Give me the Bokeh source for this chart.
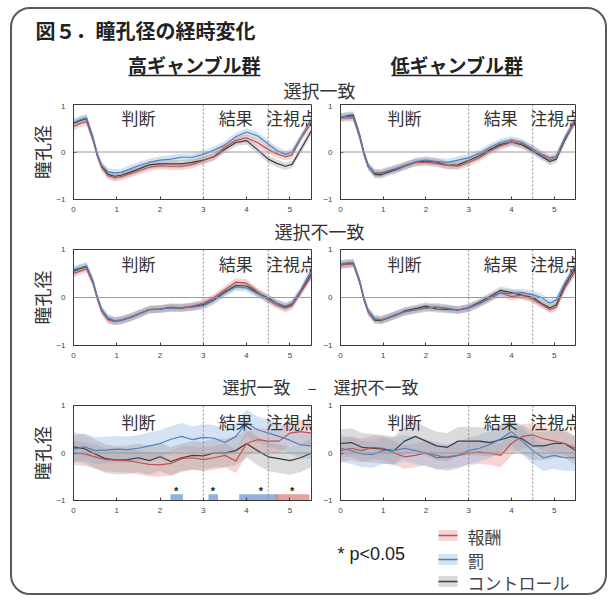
from bokeh.plotting import figure
from bokeh.layouts import column, row
from bokeh.models import Range1d, Span, Label, FixedTicker, InlineStyleSheet
from bokeh.embed import file_html
from bokeh.resources import INLINE
from bokeh.core.properties import value

JP = "Noto Sans CJK JP"
LATIN = "Liberation Sans"

# ---------------------------------------------------------------- data
# time (s) for the condition averages
time_avg = [0, 0.15, 0.3, 0.45, 0.55, 0.65, 0.8, 0.95, 1.1, 1.3, 1.5, 1.75, 2.0,
            2.25, 2.5, 2.75, 3.0, 3.25, 3.5, 3.75, 4.0, 4.25, 4.5, 4.7, 4.9,
            5.05, 5.25, 5.5]
# time (s) for the difference waves
time_diff = [0, 0.25, 0.5, 0.75, 1.0, 1.25, 1.5, 1.75, 2.0, 2.25, 2.5, 2.75,
             3.0, 3.25, 3.5, 3.75, 4.0, 4.25, 4.5, 4.75, 5.0, 5.25, 5.5]

# high-gambling group, choice congruent
hi_match_reward = [0.53, 0.60, 0.64, 0.25, -0.08, -0.32, -0.50, -0.54, -0.52, -0.46,
                   -0.40, -0.32, -0.29, -0.30, -0.30, -0.26, -0.18, -0.09, 0.10, 0.24,
                   0.30, 0.20, 0.05, -0.04, -0.10, -0.06, 0.28, 0.62]
hi_match_punish = [0.62, 0.68, 0.72, 0.30, -0.05, -0.28, -0.42, -0.44, -0.43, -0.36,
                   -0.29, -0.22, -0.17, -0.15, -0.11, -0.11, -0.05, 0.04, 0.15, 0.32,
                   0.42, 0.34, 0.17, 0.03, -0.05, 0.00, 0.30, 0.70]
hi_match_control = [0.60, 0.66, 0.70, 0.30, -0.06, -0.30, -0.47, -0.51, -0.49, -0.43,
                    -0.36, -0.27, -0.25, -0.25, -0.25, -0.22, -0.17, -0.10, 0.06, 0.20,
                    0.24, 0.05, -0.15, -0.24, -0.30, -0.26, 0.05, 0.45]

# low-gambling group, choice congruent
lo_match_reward = [0.72, 0.72, 0.72, 0.30, -0.05, -0.30, -0.44, -0.44, -0.40, -0.35,
                   -0.28, -0.22, -0.22, -0.24, -0.28, -0.30, -0.22, -0.12, 0.02, 0.13,
                   0.21, 0.17, 0.06, -0.05, -0.12, -0.10, 0.28, 0.65]
lo_match_punish = [0.74, 0.75, 0.75, 0.35, -0.05, -0.30, -0.45, -0.45, -0.40, -0.35,
                   -0.30, -0.20, -0.17, -0.20, -0.22, -0.17, -0.12, -0.03, 0.10, 0.20,
                   0.25, 0.20, 0.06, -0.06, -0.17, -0.10, 0.30, 0.70]
lo_match_control = [0.72, 0.76, 0.78, 0.35, -0.02, -0.30, -0.47, -0.48, -0.43, -0.37,
                    -0.30, -0.22, -0.19, -0.21, -0.28, -0.27, -0.18, -0.08, 0.05, 0.16,
                    0.21, 0.15, 0.02, -0.09, -0.20, -0.15, 0.25, 0.68]

# high-gambling group, choice incongruent
hi_mismatch_reward = [0.50, 0.55, 0.60, 0.30, -0.02, -0.28, -0.46, -0.50, -0.48, -0.42,
                      -0.34, -0.25, -0.24, -0.20, -0.21, -0.18, -0.12, 0.00, 0.16, 0.32,
                      0.30, 0.12, -0.05, -0.16, -0.22, -0.17, 0.10, 0.45]
hi_mismatch_punish = [0.58, 0.62, 0.66, 0.35, 0.00, -0.25, -0.43, -0.48, -0.47, -0.42,
                      -0.35, -0.26, -0.24, -0.22, -0.21, -0.20, -0.17, -0.06, 0.10, 0.22,
                      0.20, 0.08, -0.03, -0.12, -0.18, -0.12, 0.15, 0.58]
hi_mismatch_control = [0.55, 0.60, 0.64, 0.32, 0.00, -0.27, -0.45, -0.49, -0.47, -0.42,
                       -0.35, -0.25, -0.24, -0.21, -0.22, -0.19, -0.15, -0.04, 0.12, 0.25,
                       0.24, 0.10, -0.01, -0.12, -0.20, -0.14, 0.12, 0.50]

# low-gambling group, choice incongruent
lo_mismatch_reward = [0.68, 0.69, 0.70, 0.32, -0.05, -0.30, -0.45, -0.46, -0.43, -0.37,
                      -0.30, -0.26, -0.22, -0.20, -0.23, -0.26, -0.22, -0.13, -0.02, 0.10,
                      0.02, 0.05, -0.04, -0.14, -0.25, -0.20, 0.20, 0.55]
lo_mismatch_punish = [0.70, 0.72, 0.72, 0.35, -0.02, -0.28, -0.44, -0.47, -0.42, -0.35,
                      -0.30, -0.25, -0.21, -0.20, -0.22, -0.26, -0.22, -0.12, 0.00, 0.10,
                      0.08, 0.10, 0.06, 0.00, -0.12, -0.05, 0.30, 0.68]
lo_mismatch_control = [0.68, 0.70, 0.72, 0.32, -0.03, -0.30, -0.47, -0.48, -0.43, -0.36,
                       -0.28, -0.23, -0.18, -0.24, -0.25, -0.26, -0.21, -0.10, 0.02, 0.15,
                       0.10, 0.05, 0.00, -0.12, -0.22, -0.15, 0.25, 0.62]

# congruent minus incongruent
hi_diff_reward = [0.00, -0.02, -0.08, -0.14, -0.15, -0.16, -0.20, -0.24, -0.25, -0.22,
                  -0.12, -0.10, -0.14, -0.10, -0.05, -0.17, 0.20, 0.28, 0.25, 0.25,
                  0.42, 0.45, 0.42]
hi_diff_punish = [0.08, 0.13, 0.05, 0.06, 0.08, 0.07, 0.10, 0.15, 0.20, 0.29, 0.35,
                  0.28, 0.33, 0.31, 0.22, 0.35, 0.63, 0.49, 0.42, 0.35, 0.27, 0.17, 0.15]
hi_diff_control = [0.13, 0.09, -0.02, -0.12, -0.15, -0.14, -0.10, -0.16, -0.08, -0.18,
                   -0.10, -0.05, -0.06, 0.00, 0.00, 0.05, 0.20, 0.05, -0.08, -0.12,
                   -0.16, -0.10, 0.00]

lo_diff_reward = [0.05, 0.10, 0.05, 0.12, 0.10, 0.00, -0.08, -0.05, 0.00, -0.10, -0.08,
                  -0.05, 0.00, 0.02, 0.00, -0.05, 0.20, 0.35, 0.38, 0.30, 0.25, 0.20, 0.10]
lo_diff_punish = [0.10, 0.05, -0.02, -0.03, 0.05, 0.05, 0.10, 0.05, 0.00, -0.05, -0.10,
                  -0.05, 0.05, 0.10, 0.18, 0.30, 0.45, 0.25, 0.05, -0.10, -0.05, -0.10,
                  -0.10]
lo_diff_control = [0.20, 0.22, 0.12, 0.10, 0.08, 0.05, 0.25, 0.35, 0.25, 0.15, 0.12,
                   0.25, 0.25, 0.25, 0.22, 0.28, 0.35, 0.30, 0.15, 0.15, 0.20, 0.20, 0.05]

# standard errors (reward, punishment, control)
sem_avg = [0.08, 0.08, 0.08]
sem_diff = [0.25, 0.28, 0.30]

# significant clusters (p < 0.05) in the high-gambling difference wave
sig_punish_start = [2.24, 3.12, 3.83]
sig_punish_end = [2.53, 3.34, 4.74]
sig_reward_start = [4.66]
sig_reward_end = [5.45]
sig_star_times = [2.37, 3.22, 4.33, 5.05]

# trial phases
event_times = [3.0, 4.5]
phase_names = ["判断", "結果", "注視点"]
phase_centers = [1.5, 3.75, 5.04]

x_ticks = [0, 1, 2, 3, 4, 5]
y_ticks = [-1, 0, 1]

condition_names = ["報酬", "罰", "コントロール"]
line_colors = ["#c0504d", "#4f81bd", "#3c3c3c"]
band_colors = ["#e48f8d", "#8fb3e2", "#a0a0a0"]
BAND_ALPHA = 0.38
TEXT = "#333333"

FRAME_W = 238


def empty_fig(w, h):
    """A bare canvas in pixel units (y grows downwards) for titles and the key."""
    f = figure(width=w, height=h, x_range=Range1d(0, w), y_range=Range1d(h, 0),
               output_backend="svg", toolbar_location=None,
               x_axis_location=None, y_axis_location=None,
               min_border=0, min_border_left=0, min_border_right=0,
               min_border_top=0, min_border_bottom=0)
    f.grid.visible = False
    f.outline_line_color = None
    return f


def panel(t, series, sems, first_col, top, frame_h, bottom, label_y, sig=False):
    lb = 73 if first_col else 17
    rb = 9 if first_col else 39
    p = figure(width=lb + FRAME_W + rb, height=top + frame_h + bottom,
               x_range=Range1d(0, 5.5), y_range=Range1d(-1, 1),
               output_backend="svg", toolbar_location=None,
               min_border_left=lb, min_border_right=rb,
               min_border_top=top, min_border_bottom=bottom)
    p.grid.visible = False
    p.outline_line_color = "#3a3a3a"

    p.add_layout(Span(location=0, dimension="width", line_color="#9a9a9a", line_width=1))
    for et in event_times:
        p.add_layout(Span(location=et, dimension="height", line_color="#8a8a8a",
                          line_width=1, line_dash="2 2"))

    for vals, s, c in zip(series, sems, band_colors):
        lo = [v - s for v in vals]
        hi = [v + s for v in vals]
        p.varea(x=t, y1=lo, y2=hi, fill_color=c, fill_alpha=BAND_ALPHA)

    if sig:
        p.quad(left=sig_punish_start, right=sig_punish_end, bottom=-1, top=-0.87,
               fill_color="#86a9d8", fill_alpha=0.9, line_color=None)
        p.quad(left=sig_reward_start, right=sig_reward_end, bottom=-1, top=-0.87,
               fill_color="#e08a8a", fill_alpha=0.8, line_color=None)
        p.text(x=sig_star_times, y=[-0.8] * len(sig_star_times),
               text=["*"] * len(sig_star_times), text_align="center",
               text_baseline="middle", text_font=value(LATIN),
               text_font_size="11px", text_font_style="bold", text_color="#222222")

    for vals, c in zip([series[2], series[0], series[1]],
                       [line_colors[2], line_colors[0], line_colors[1]]):
        p.line(t, vals, line_color=c, line_width=1.2, line_join="round")

    for name, cx in zip(phase_names, phase_centers):
        p.add_layout(Label(x=cx, y=label_y, text=name, text_align="center",
                           text_baseline="middle", text_font=JP,
                           text_font_size="17px", text_color=TEXT))

    # ticks point into the frame
    p.xaxis.ticker = FixedTicker(ticks=x_ticks)
    p.yaxis.ticker = FixedTicker(ticks=y_ticks)
    for ax in (p.xaxis[0], p.yaxis[0]):
        ax.major_tick_in = 3
        ax.major_tick_out = 0
        ax.minor_tick_line_color = None
        ax.axis_line_color = "#3a3a3a"
        ax.major_tick_line_color = "#3a3a3a"
        ax.major_label_text_font = LATIN
        ax.major_label_text_font_size = "8px"
        ax.major_label_text_color = "#444444"
        ax.major_label_standoff = 7
    p.yaxis[0].major_label_standoff = 8
    if first_col:
        p.yaxis[0].axis_label = "瞳孔径"
        p.yaxis[0].axis_label_text_font = JP
        p.yaxis[0].axis_label_text_font_size = "18px"
        p.yaxis[0].axis_label_text_font_style = "normal"
        p.yaxis[0].axis_label_text_color = TEXT
        p.yaxis[0].axis_label_standoff = -2
    return p


# ---------------------------------------------------------------- header
header = empty_fig(614, 103)
header.text(x=[35], y=[30], text=["図５．瞳孔径の経時変化"], text_font=value(JP),
            text_font_size="20px", text_font_style="bold", text_color="#222222",
            text_align="left", text_baseline="middle")
group_names = ["高ギャンブル群", "低ギャンブル群"]
group_centers = [194, 456.5]
header.text(x=group_centers, y=[64, 64], text=group_names, text_font=value(JP),
            text_font_size="19px", text_font_style="bold", text_color="#222222",
            text_align="center", text_baseline="middle")
header.segment(x0=[128, 391], y0=[75, 75], x1=[260, 522], y1=[75, 75],
               line_color="#222222", line_width=1.5)
header.text(x=[319], y=[89], text=["選択一致"], text_font=value(JP),
            text_font_size="18px", text_color=TEXT, text_align="center",
            text_baseline="middle")

title2 = empty_fig(614, 24)
title2.text(x=[319], y=[11.5], text=["選択不一致"], text_font=value(JP),
            text_font_size="18px", text_color=TEXT, text_align="center",
            text_baseline="middle")

title3 = empty_fig(614, 32)
title3.text(x=[320], y=[19.5], text=["選択一致　–　選択不一致"], text_font=value(JP),
            text_font_size="17px", text_color=TEXT, text_align="center",
            text_baseline="middle")

# ---------------------------------------------------------------- panels
p11 = panel(time_avg, [hi_match_reward, hi_match_punish, hi_match_control], sem_avg,
            True, 1, 95, 20, 0.72)
p12 = panel(time_avg, [lo_match_reward, lo_match_punish, lo_match_control], sem_avg,
            False, 1, 95, 20, 0.72)
p21 = panel(time_avg, [hi_mismatch_reward, hi_mismatch_punish, hi_mismatch_control],
            sem_avg, True, 6, 96, 21, 0.70)
p22 = panel(time_avg, [lo_mismatch_reward, lo_mismatch_punish, lo_mismatch_control],
            sem_avg, False, 6, 96, 21, 0.70)
p31 = panel(time_diff, [hi_diff_reward, hi_diff_punish, hi_diff_control], sem_diff,
            True, 7, 95, 22, 0.66, sig=True)
p32 = panel(time_diff, [lo_diff_reward, lo_diff_punish, lo_diff_control], sem_diff,
            False, 7, 95, 22, 0.66)

# ---------------------------------------------------------------- footer / key
footer = empty_fig(614, 79)
footer.text(x=[337], y=[31], text=["* p<0.05"], text_font=value(LATIN),
            text_font_size="18px", text_color="#222222", text_align="left",
            text_baseline="middle")
key_rows = [13, 37, 59]
key_left, key_right = 438, 457
footer.quad(left=[key_left] * 3, right=[key_right] * 3,
            top=[r - 5.5 for r in key_rows], bottom=[r + 5.5 for r in key_rows],
            fill_color=band_colors, fill_alpha=BAND_ALPHA, line_color=None)
footer.segment(x0=[key_left] * 3, x1=[key_right] * 3, y0=key_rows, y1=key_rows,
               line_color=line_colors, line_width=1.5)
footer.text(x=[467] * 3, y=[r + 1 for r in key_rows], text=condition_names,
            text_font=value(JP), text_font_size="17px", text_color="#444444",
            text_align="left", text_baseline="middle")

frame_css = InlineStyleSheet(css="""
:host { position: relative; }
:host::after {
  content: ""; position: absolute; left: 10px; top: 7px;
  width: 597px; height: 588px; box-sizing: border-box;
  border: 2px solid #5a5a5a; border-radius: 20px;
  pointer-events: none; z-index: 10;
}
""")

page = column(header, row(p11, p12), title2, row(p21, p22), title3,
              row(p31, p32), footer, stylesheets=[frame_css])

open("out.html", "w").write(file_html(page, INLINE))
